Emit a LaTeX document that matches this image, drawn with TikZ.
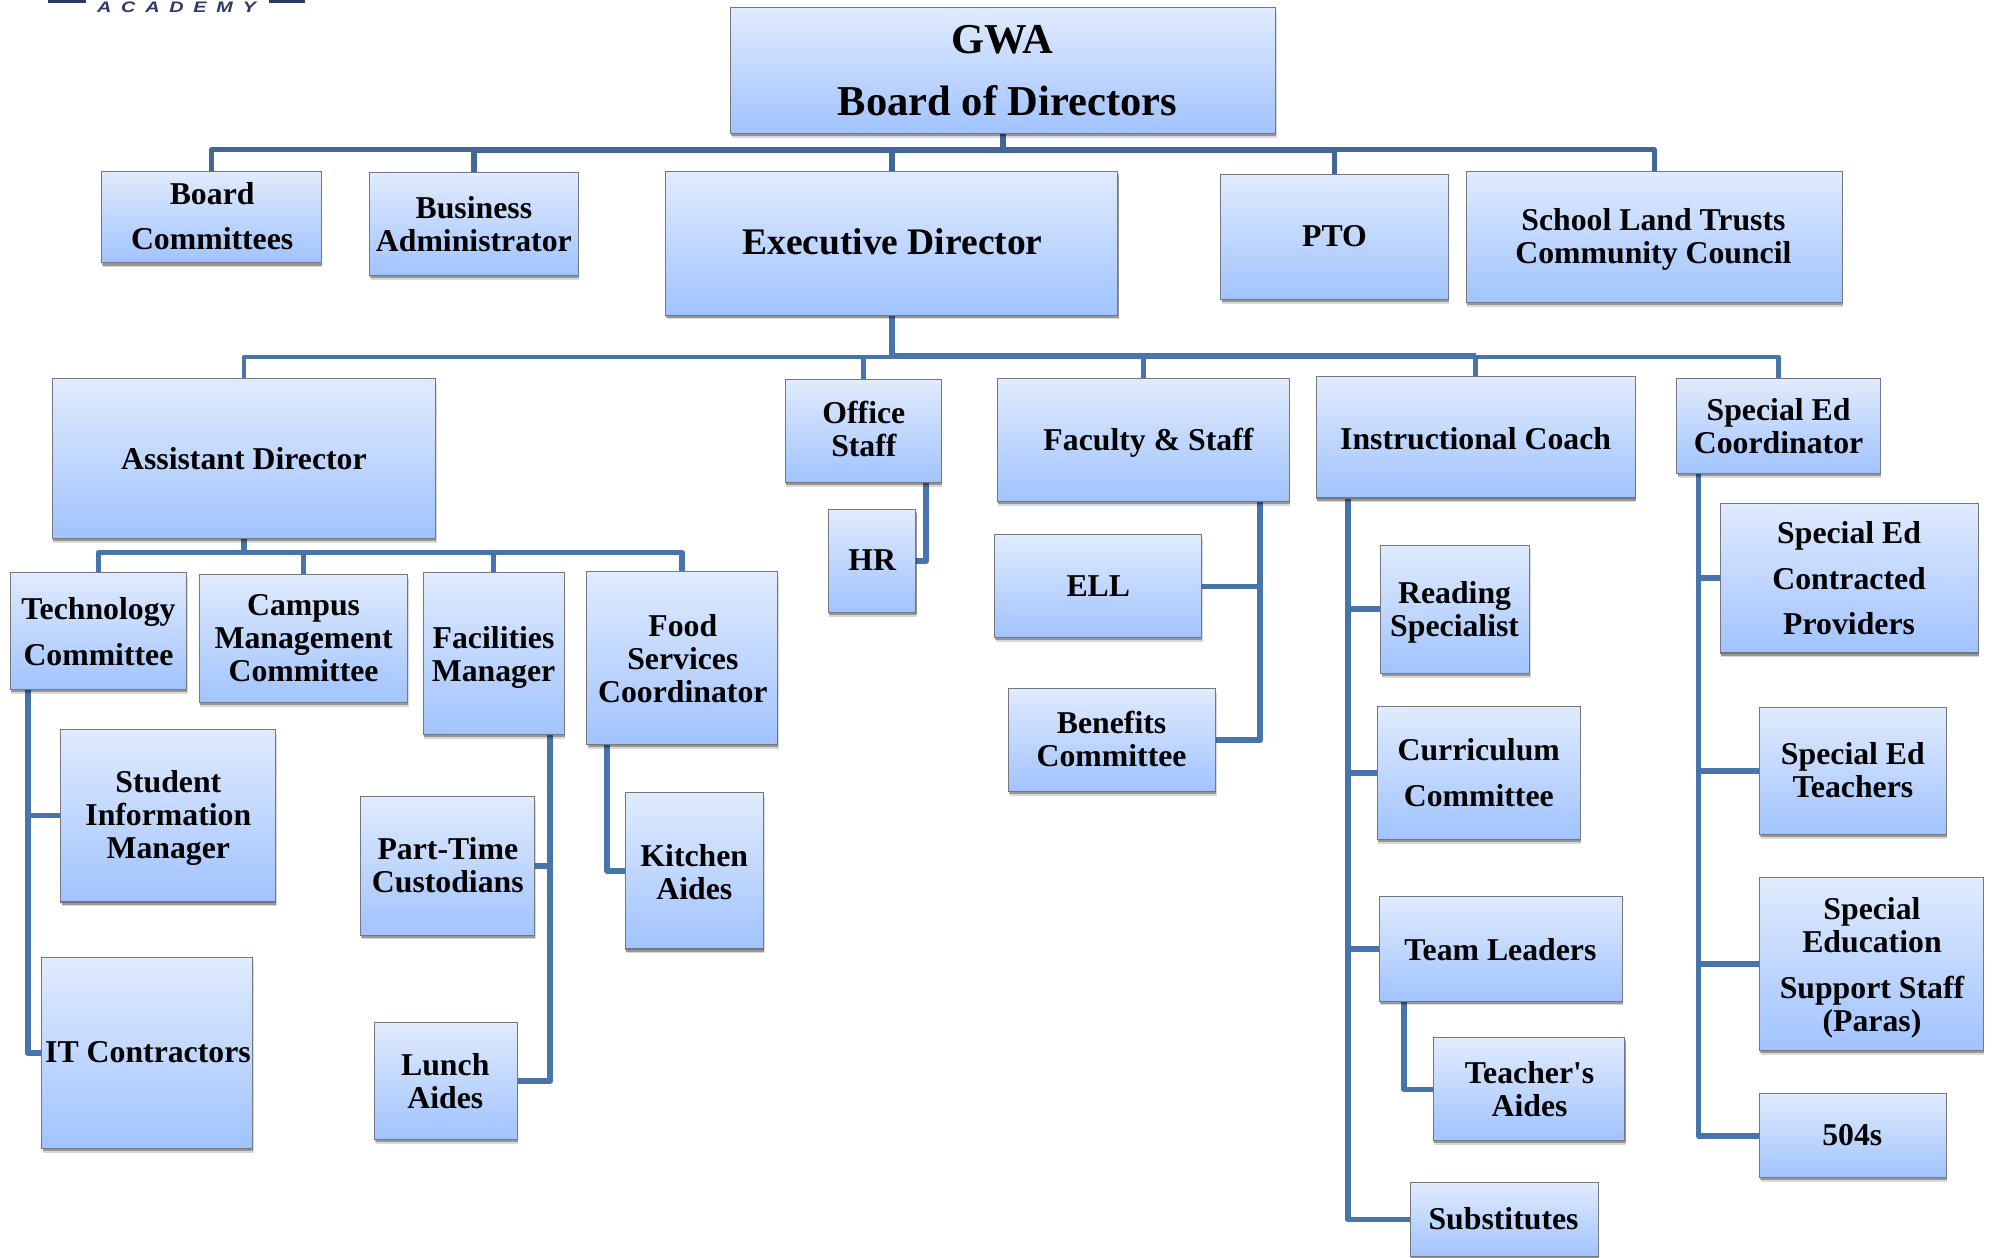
\documentclass[tikz,border=0pt]{standalone}
\usepackage{fontspec}
\setmainfont{Liberation Serif}
\setsansfont{Liberation Sans}
\newfontfamily\nomapfont{Liberation Serif}
\newfontfamily\logofont[FakeStretch=1.3]{Liberation Sans}
\usetikzlibrary{shadows,backgrounds,calc}
\definecolor{linkblue}{HTML}{4874AC}
\definecolor{linkdark}{HTML}{3F6798}
\definecolor{boxtop}{HTML}{E0EBFD}
\definecolor{boxbot}{HTML}{A1C3FF}
\definecolor{boxedge}{HTML}{75777F}
\definecolor{logonavy}{HTML}{2D3A63}
\tikzset{
  orgbox/.style={rectangle,draw=boxedge,line width=0.8pt,top color=boxtop,bottom color=boxbot,
    inner sep=0pt,outer sep=0pt,
    drop shadow={shadow xshift=0.8pt,shadow yshift=-3.4pt,opacity=0.15,fill=black},
    drop shadow={shadow xshift=0.5pt,shadow yshift=-2pt,opacity=0.3,fill=black}},
  link/.style={draw=linkblue,line width=4.4pt,line join=round},
  linkthick/.style={draw=linkdark,line width=5pt,line join=round},
  linkthin/.style={draw=linkdark,line width=3.8pt,line join=round},
  linkstem/.style={draw=linkdark,line width=4.3pt,line join=round},
  midthin/.style={draw=linkblue,line width=3.7pt,line join=round},
  midthick/.style={draw=linkblue,line width=5.2pt,line join=round},
  midstem/.style={draw=linkblue,line width=4.7pt},
}
% [font size]{name}{x1}{y1}{x2}{y2}{text centre x}{text centre y}{lines}
\newcommand{\bx}[9][25]{%
  \pgfmathsetmacro{\bxw}{#5-#3}\pgfmathsetmacro{\bxh}{#6-#4}%
  \pgfmathsetmacro{\bxcx}{(#3+#5)/2}\pgfmathsetmacro{\bxcy}{(#4+#6)/2}%
  \pgfmathsetmacro{\bxdx}{2*(#7-\bxcx)}\pgfmathsetmacro{\bxdy}{\bxcy-#8-0.4*#1+0.3}%
  \node[orgbox,minimum width=\bxw pt,minimum height=\bxh pt] (#2) at (\bxcx,\bxcy)
    {\raisebox{\bxdy pt}[0pt][0pt]{\makebox[0pt][c]{\hspace{\bxdx pt}\fontsize{#1}{26}\selectfont\bfseries
      \begin{tabular}{@{}c@{}}#9\end{tabular}}}};%
}
\begin{document}
\begin{tikzpicture}[x=1pt,y=-1pt]
\useasboundingbox (0,0) rectangle (1568,990.2);

% logo fragment
\fill[logonavy] (38,0) rectangle (68,2);
\fill[logonavy] (212,0) rectangle (240,2);
\node[text=logonavy,inner sep=0pt] (logo) at (139,5.6)
  {\fontsize{12}{12}\logofont\bfseries\itshape\makebox[125pt][s]{A\hfill C\hfill A\hfill D\hfill E\hfill M\hfill Y}};

\bx[33.5]{gwa}{575}{6}{1004}{105}{789}{52.5}{GWA\\[18pt]\hspace*{8pt}Board of Directors}
\bx{board}{80}{135}{253}{207}{167}{170}{Board\\[10pt]Committees}
\bx{bus}{291}{136}{455}{217}{373}{176}{Business\\Administrator}
\bx[29.5]{exec}{524}{135}{880}{248}{702.5}{188.5}{Executive Director}
\bx{pto}{961}{137}{1140}{236}{1050.5}{185}{PTO}
\bx{land}{1154}{135}{1450}{238}{1301.5}{186}{School Land Trusts\\Community Council}
\bx{asst}{41}{298}{343}{424}{192}{361}{Assistant Director}
\bx{office}{618}{299}{741}{380}{680}{338}{Office\\Staff}
\bx{hr}{652}{401}{721}{482}{686.5}{440}{HR}
\bx{faculty}{785}{298}{1015}{395}{904}{346}{Faculty \& Staff}
\bx{coach}{1036}{296}{1287}{392}{1161.5}{345}{Instructional Coach}
\bx{secoord}{1320}{298}{1480}{373}{1400}{335}{Special Ed\\Coordinator}
\bx{tech}{8}{451}{147}{543}{77.5}{497}{Technology\\[10pt]Committee}
\bx{campus}{157}{452}{321}{553}{239}{502}{Campus\\Management\\Committee}
\bx{facil}{333}{451}{444}{578}{388.5}{515}{Facilities\\Manager}
\bx{food}{462}{450}{612}{586}{537.5}{518}{Food\\Services\\Coordinator}
\bx{student}{48}{574}{217}{710}{132.5}{641}{Student\\Information\\Manager}
\bx{it}{33}{754}{199}{904}{116.5}{828}{IT Contractors}
\bx{part}{284}{627}{421}{736}{352.5}{681}{Part-Time\\Custodians}
\bx{lunch}{295}{805}{407}{897}{350.5}{851}{Lunch\\Aides}
\bx{kitchen}{492}{624}{601}{747}{546.5}{686}{Kitchen\\Aides}
\bx{ell}{783}{421}{946}{502}{864.5}{461}{ELL}
\bx{benefits}{794}{542}{957}{623}{875}{582}{Benefits\\Committee}
\bx{reading}{1087}{429}{1204}{530}{1145}{479}{Reading\\Specialist}
\bx{curric}{1084}{556}{1244}{661}{1164}{608}{Curriculum\\[10pt]Committee}
\bx{team}{1086}{706}{1277}{788}{1181}{747}{Team Leaders}
\bx{taides}{1128}{817}{1279}{898}{1204}{857}{Teacher{\nomapfont\bfseries '}s\\Aides}
\bx{subs}{1110}{931}{1258}{989}{1183.5}{959}{Substitutes}
\bx{secon}{1354}{396}{1557}{514}{1455.5}{455}{Special Ed\\[10pt]Contracted\\[10pt]Providers}
\bx{seteach}{1385}{557}{1532}{657}{1458.5}{606}{Special Ed\\Teachers}
\bx{paras}{1385}{691}{1561}{827}{1473.5}{759}{Special\\Education\\[10pt]Support Staff\\(Paras)}
\bx{five}{1385}{861}{1532}{927}{1458}{893}{504s}

% bus lines and trunks (named free ends)
\coordinate (topA) at (373,118);
\coordinate (topR) at (1050,118);
\coordinate (midA) at (702,281);
\coordinate (midB) at (702,280.1);
\coordinate (midC) at (1162,280.1);
\coordinate (midD) at (1162,281);
\coordinate (astbar) at (192,435);
\coordinate (officeX) at (729,0);
\coordinate (facX) at (992,0);
\coordinate (coachX) at (1061,0);
\coordinate (teamX) at (1105,0);
\coordinate (seX) at (1337,0);
\coordinate (techX) at (22,0);
\coordinate (facilX) at (433,0);
\coordinate (foodX) at (478,0);

\begin{pgfonlayer}{background}
  % board level
  \draw[linkthin] (board.north) |- (topA);
  \draw[linkthin] (topR) -| (land.north);
  \draw[linkstem] (bus.north) -- (bus.north |- topA);
  \draw[linkstem] (pto.north) -- (pto.north |- topR);
  \draw[linkstem] (exec.north) -- (exec.north |- topA);
  \draw[linkthick] (topA) -- (topR);
  \draw[linkstem] (gwa.south) -- (gwa.south |- topA);
  % executive level
  \draw[midthin] (asst.north) |- (midA);
  \draw[midthin] (midD) -| (secoord.north);
  \draw[midthin] (office.north) -- (office.north |- midA);
  \draw[midthin] (faculty.north) -- (faculty.north |- midA);
  \draw[midthin] (coach.north) -- (coach.north |- midC);
  \draw[midthick] (midB) -- (midC);
  \draw[midstem] (exec.south) -- (midB);
  % assistant director
  \draw[link] (asst.south) -- (astbar);
  \draw[link] (tech.north) |- (astbar);
  \draw[link] (campus.north) |- (astbar);
  \draw[link] (facil.north) |- (astbar);
  \draw[link] (food.north) |- (astbar);
  % side branches
  \draw[link] (office.south -| officeX) |- (hr.east);
  \draw[link] (faculty.south -| facX) |- (ell.east);
  \draw[link] (faculty.south -| facX) |- (benefits.east);
  \draw[link] (coach.south -| coachX) |- (reading.west);
  \draw[link] (coach.south -| coachX) |- (curric.west);
  \draw[link] (coach.south -| coachX) |- (team.west);
  \draw[link] (coach.south -| coachX) |- (subs.west);
  \draw[link] (team.south -| teamX) |- (taides.west);
  \draw[link] (secoord.south -| seX) |- (secon.west);
  \draw[link] (secoord.south -| seX) |- (seteach.west);
  \draw[link] (secoord.south -| seX) |- (paras.west);
  \draw[link] (secoord.south -| seX) |- (five.west);
  \draw[link] (tech.south -| techX) |- (student.west);
  \draw[link] (tech.south -| techX) |- (it.west);
  \draw[link] (facil.south -| facilX) |- (part.east);
  \draw[link] (facil.south -| facilX) |- (lunch.east);
  \draw[link] (food.south -| foodX) |- (kitchen.west);
\end{pgfonlayer}
\end{tikzpicture}
\end{document}
